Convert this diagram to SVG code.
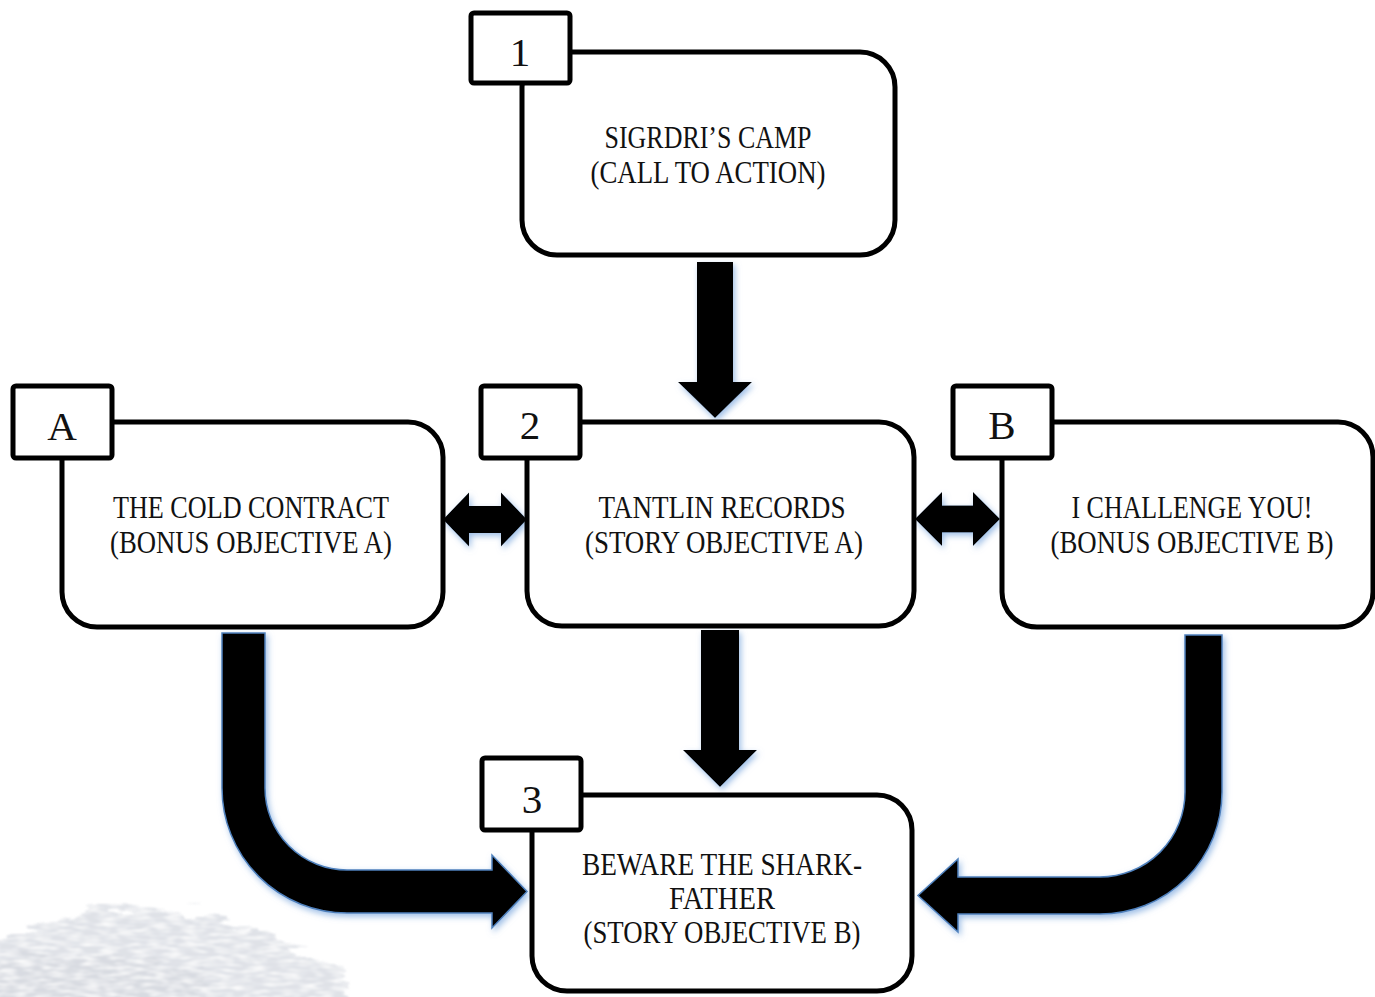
<svg xmlns="http://www.w3.org/2000/svg" width="1375" height="997" viewBox="0 0 1375 997">
  <defs>
    <style>
      .box { fill: #ffffff; stroke: #000000; stroke-width: 5; }
      .tag { fill: #ffffff; stroke: #000000; stroke-width: 5; }
      .txt { font-family: "Liberation Serif", "DejaVu Serif", serif; font-size: 31px; fill: #111111; text-anchor: middle; }
      .num { font-family: "Liberation Serif", "DejaVu Serif", serif; font-size: 41px; fill: #111111; text-anchor: middle; }
      .arrow { fill: #000000; filter: url(#glow); }
      .bent { fill: #000000; stroke: #4f81bd; stroke-width: 1.5; filter: url(#glow); }
    </style>
    <filter id="glow" x="-20%" y="-20%" width="140%" height="140%">
      <feDropShadow dx="2" dy="3" stdDeviation="3" flood-color="#8db3e2" flood-opacity="0.85"/>
    </filter>
    <filter id="brush" x="-20%" y="-40%" width="140%" height="180%">
      <feTurbulence type="fractalNoise" baseFrequency="0.025 0.1" numOctaves="3" seed="5" result="n"/>
      <feDisplacementMap in="SourceGraphic" in2="n" scale="34" xChannelSelector="R" yChannelSelector="G" result="d"/>
      <feTurbulence type="fractalNoise" baseFrequency="0.06 0.3" numOctaves="2" seed="9" result="n2"/>
      <feColorMatrix in="n2" type="matrix" values="0 0 0 0 1  0 0 0 0 1  0 0 0 0 1  0 0 0 2 -0.75" result="spots"/>
      <feComposite in="spots" in2="d" operator="in" result="sp"/>
      <feMerge result="m"><feMergeNode in="d"/><feMergeNode in="sp"/></feMerge>
      <feGaussianBlur in="m" stdDeviation="0.8"/>
    </filter>
  </defs>

  <rect x="0" y="0" width="1375" height="997" fill="#ffffff"/>

  <!-- background brush stroke -->
  <g id="background" filter="url(#brush)" opacity="0.7">
    <path d="M-10,945 C20,930 60,915 110,910 C160,905 200,912 240,928 C280,942 320,958 345,980 L350,1010 L-10,1010 Z" fill="#d2d6de"/>
    <path d="M-10,965 C60,950 130,955 200,968 L210,1010 L-10,1010 Z" fill="#c8ccd5"/>
  </g>

  <!-- connectors -->
  <g id="connectors">
    <path class="arrow" d="M697,262 H733 V382 H752 L715,418 L678,382 H697 Z"/>
    <path class="arrow" d="M701,630 H739 V750 H757 L720,787 L683,750 H701 Z"/>
    <path class="arrow" d="M443,519.5 L469,492.5 V506 H501 V492.5 L527,519.5 L501,546.5 V533 H469 V546.5 Z"/>
    <path class="arrow" d="M915,519 L942,492 V505.5 H973 V492 L1000,519 L973,546 V532.5 H942 V546 Z"/>
    <path class="bent" d="M222,633 H265 V788 A82,82 0 0 0 347,870 H492 V855 L527,891.5 L492,928 V913 H347 A125,125 0 0 1 222,788 Z"/>
    <path class="bent" d="M1185,635 H1222 V792 A122,122 0 0 1 1100,914 H958 V932 L918,895.5 L958,859 V877 H1100 A85,85 0 0 0 1185,792 Z"/>
  </g>

  <!-- node 1 -->
  <g id="node-1">
    <rect class="box" x="522" y="52" width="373" height="203" rx="35"/>
    <rect class="tag" x="471" y="13" width="99" height="70" rx="3"/>
    <text class="num" x="520" y="66">1</text>
    <text class="txt" x="708" y="148" textLength="207" lengthAdjust="spacingAndGlyphs">SIGRDRI’S CAMP</text>
    <text class="txt" x="708" y="183" textLength="235" lengthAdjust="spacingAndGlyphs">(CALL TO ACTION)</text>
  </g>

  <!-- node A -->
  <g id="node-A">
    <rect class="box" x="62" y="422" width="381" height="205" rx="35"/>
    <rect class="tag" x="13" y="386" width="99" height="72" rx="3"/>
    <text class="num" x="62" y="440">A</text>
    <text class="txt" x="251" y="518" textLength="276" lengthAdjust="spacingAndGlyphs">THE COLD CONTRACT</text>
    <text class="txt" x="251" y="553" textLength="282" lengthAdjust="spacingAndGlyphs">(BONUS OBJECTIVE A)</text>
  </g>

  <!-- node 2 -->
  <g id="node-2">
    <rect class="box" x="527" y="422" width="387" height="204" rx="35"/>
    <rect class="tag" x="481" y="386" width="99" height="72" rx="3"/>
    <text class="num" x="530" y="439">2</text>
    <text class="txt" x="722" y="518" textLength="247" lengthAdjust="spacingAndGlyphs">TANTLIN RECORDS</text>
    <text class="txt" x="724" y="553" textLength="278" lengthAdjust="spacingAndGlyphs">(STORY OBJECTIVE A)</text>
  </g>

  <!-- node B -->
  <g id="node-B">
    <rect class="box" x="1002" y="422" width="371" height="205" rx="35"/>
    <rect class="tag" x="953" y="386" width="99" height="72" rx="3"/>
    <text class="num" x="1002" y="439">B</text>
    <text class="txt" x="1192" y="518" textLength="241" lengthAdjust="spacingAndGlyphs">I CHALLENGE YOU!</text>
    <text class="txt" x="1192" y="553" textLength="283" lengthAdjust="spacingAndGlyphs">(BONUS OBJECTIVE B)</text>
  </g>

  <!-- node 3 -->
  <g id="node-3">
    <rect class="box" x="532" y="795" width="380" height="196" rx="35"/>
    <rect class="tag" x="482" y="758" width="99" height="72" rx="3"/>
    <text class="num" x="532" y="813">3</text>
    <text class="txt" x="722" y="875" textLength="280" lengthAdjust="spacingAndGlyphs">BEWARE THE SHARK-</text>
    <text class="txt" x="722" y="909" textLength="106" lengthAdjust="spacingAndGlyphs">FATHER</text>
    <text class="txt" x="722" y="943" textLength="277" lengthAdjust="spacingAndGlyphs">(STORY OBJECTIVE B)</text>
  </g>
</svg>
